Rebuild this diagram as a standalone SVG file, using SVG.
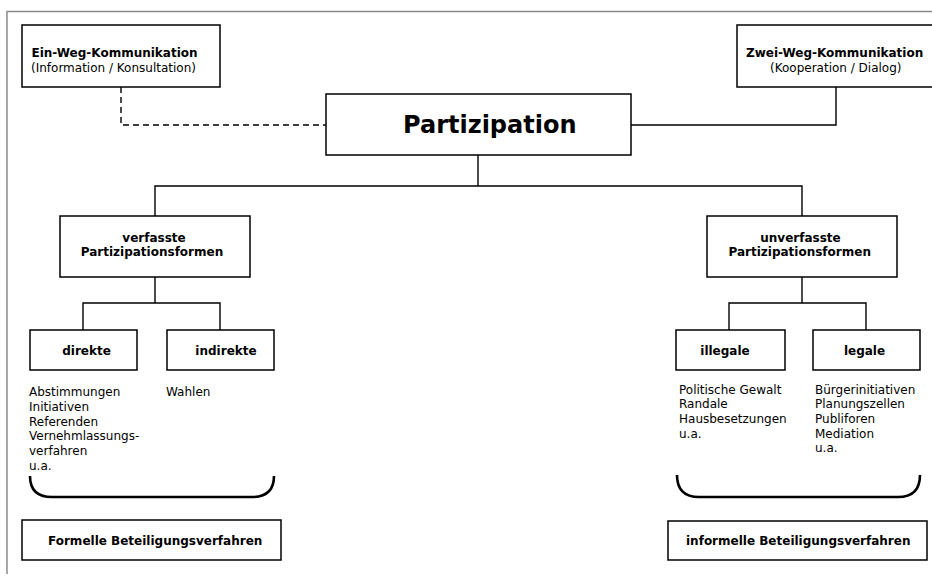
<svg xmlns="http://www.w3.org/2000/svg" width="932" height="577" viewBox="0 0 932 577">
<style>
.box{fill:#fff;stroke:#000;stroke-width:1.5}
.ln{fill:none;stroke:#000;stroke-width:1.4}
.br{fill:none;stroke:#000;stroke-width:2.6}
.b{font-family:"DejaVu Sans",Verdana,sans-serif;font-weight:bold;font-size:12px;fill:#000}
.r{font-family:"DejaVu Sans",Verdana,sans-serif;font-size:12px;fill:#000}
.m{text-anchor:middle}
</style>
<rect width="932" height="577" fill="#fff"/>
<path d="M7,574 V11.5 H932" fill="none" stroke="#8a8a8a" stroke-width="1.5"/>
<g id="connectors">
<path class="ln" d="M121,87 V125 H326" stroke-dasharray="6,4"/>
<path class="ln" d="M836,87 V125 H631"/>
<path class="ln" d="M478,155 V186"/>
<path class="ln" d="M155,216 V186 H802 V216"/>
<path class="ln" d="M155,277 V303"/>
<path class="ln" d="M83,330 V303 H220 V330"/>
<path class="ln" d="M802,277 V303"/>
<path class="ln" d="M729,330 V303 H866 V330"/>
<path class="br" d="M30,476 C30,491 38,497 52,497 H252 C266,497 274,491 274,476"/>
<path class="br" d="M677,475 C677,490 685,497 699,497 H898 C912,497 920,490 920,475"/>
</g>
<g id="ein-weg">
<rect class="box" x="22" y="25" width="198" height="62"/>
<text class="b" x="31.5" y="56.5">Ein-Weg-Kommunikation</text>
<text class="r" x="31" y="71.5">(Information / Konsultation)</text>
</g>
<g id="zwei-weg">
<rect class="box" x="737" y="25" width="200" height="62"/>
<text class="b" x="746" y="56.5">Zwei-Weg-Kommunikation</text>
<text class="r" x="770" y="71.5">(Kooperation / Dialog)</text>
</g>
<g id="partizipation">
<rect class="box" x="326" y="94" width="305" height="61"/>
<text class="b" x="403" y="133" style="font-size:24px">Partizipation</text>
</g>
<g id="verfasste">
<rect class="box" x="60" y="216" width="190" height="61"/>
<text class="b m" x="154" y="241.7">verfasste</text>
<text class="b m" x="152" y="256">Partizipationsformen</text>
</g>
<g id="unverfasste">
<rect class="box" x="707" y="216" width="190" height="61"/>
<text class="b m" x="800.5" y="241.7">unverfasste</text>
<text class="b m" x="799.7" y="256">Partizipationsformen</text>
</g>
<g id="direkte">
<rect class="box" x="30" y="330" width="107" height="40"/>
<text class="b m" x="86.5" y="354.5">direkte</text>
</g>
<g id="indirekte">
<rect class="box" x="167" y="330" width="107" height="40"/>
<text class="b m" x="226" y="355">indirekte</text>
</g>
<g id="illegale">
<rect class="box" x="676" y="330" width="109" height="40"/>
<text class="b m" x="725" y="355">illegale</text>
</g>
<g id="legale">
<rect class="box" x="813" y="330" width="107" height="40"/>
<text class="b m" x="864.5" y="355">legale</text>
</g>
<g id="list-direkte">
<text class="r" x="29" y="396">Abstimmungen</text>
<text class="r" x="29" y="410.8">Initiativen</text>
<text class="r" x="29" y="425.6">Referenden</text>
<text class="r" x="29" y="440.4">Vernehmlassungs-</text>
<text class="r" x="29" y="455.2">verfahren</text>
<text class="r" x="29" y="470">u.a.</text>
</g>
<g id="list-indirekte">
<text class="r" x="166" y="396">Wahlen</text>
</g>
<g id="list-illegale">
<text class="r" x="679" y="393.5">Politische Gewalt</text>
<text class="r" x="679" y="408.2">Randale</text>
<text class="r" x="679" y="422.9">Hausbesetzungen</text>
<text class="r" x="679" y="437.6">u.a.</text>
</g>
<g id="list-legale">
<text class="r" x="815" y="393.5">Bürgerinitiativen</text>
<text class="r" x="815" y="408.2">Planungszellen</text>
<text class="r" x="815" y="422.9">Publiforen</text>
<text class="r" x="815" y="437.6">Mediation</text>
<text class="r" x="815" y="452.3">u.a.</text>
</g>
<g id="formelle">
<rect class="box" x="22" y="520" width="259" height="40"/>
<text class="b" x="48" y="544.5">Formelle Beteiligungsverfahren</text>
</g>
<g id="informelle">
<rect class="box" x="668" y="521" width="259" height="39"/>
<text class="b" x="686" y="544.5">informelle Beteiligungsverfahren</text>
</g>
</svg>
